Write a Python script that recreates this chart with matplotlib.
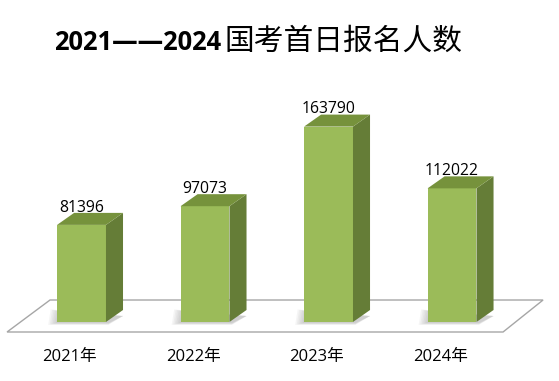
import matplotlib.pyplot as plt
from matplotlib.patches import Polygon

# data
years = ["2021年", "2022年", "2023年", "2024年"]
counts = [81396, 97073, 163790, 112022]
title_num = "2021——2024"
title_cn = "国考首日报名人数"

FONT = ["Open Sans", "Noto Sans CJK SC", "DejaVu Sans"]
plt.rcParams["font.family"] = FONT

front_c = "#9BBB59"
side_c = "#657D37"
top_c = "#76923C"

fig = plt.figure(figsize=(5.59, 3.81), dpi=100)
ax = fig.add_axes([0, 0, 1, 1])
ax.axis("off")

# one category = 123.5 px, 1 px = 838 value units
ax.set_xlim(-0.66, 3.866)
ax.set_ylim(-49450, 269900)

w = 0.198      # half bar width
dx = 0.138     # depth offset (category units)
dy = 10060     # depth offset (value units)

# floor
floor = Polygon([(-0.603, -8380), (3.413, -8380), (3.737, 18440), (-0.255, 18440)],
                closed=True, facecolor="white", edgecolor="#A6A6A6", lw=1.0, zorder=1)
ax.add_patch(floor)

for i, v in enumerate(counts):
    # soft shadow on the floor
    for k in range(6):
        s = 0.012 * (k + 1)
        ax.add_patch(Polygon([(i - w - s, -900 - 300 * k), (i + w + 0.02, -900 - 300 * k),
                              (i + w + dx, dy * 0.5), (i - w - s + 0.02, 9000 + 300 * k)],
                             closed=True, facecolor="#7F7F7F", edgecolor="none",
                             alpha=0.07, zorder=2))
    ax.add_patch(Polygon([(i - w, 0), (i + w, 0), (i + w, v), (i - w, v)],
                         closed=True, facecolor=front_c, edgecolor="none", zorder=3))
    ax.add_patch(Polygon([(i + w, 0), (i + w + dx, dy), (i + w + dx, v + dy), (i + w, v)],
                         closed=True, facecolor=side_c, edgecolor="none", zorder=3))
    ax.add_patch(Polygon([(i - w, v), (i + w, v), (i + w + dx, v + dy), (i - w + dx, v + dy)],
                         closed=True, facecolor=top_c, edgecolor="none", zorder=3))
    ax.annotate(str(v), (i, v), xytext=(0, 12.5), textcoords="offset points",
                ha="center", va="center", fontsize=11.3, color="black", zorder=4)
    ax.annotate(years[i], (i, 0), xytext=(-8.5, -25), textcoords="offset points",
                ha="center", va="center", fontsize=12, color="black")

# title: bold digits + regular Chinese, centred together
t1 = fig.text(0, 0.869, title_num, fontsize=18.4, fontweight="bold",
              ha="left", va="baseline", family=FONT)
t2 = fig.text(0, 0.869, title_cn, fontsize=21.4, ha="left", va="baseline",
              family=["Noto Sans CJK SC", "DejaVu Sans"])
fig.canvas.draw()
r = fig.canvas.get_renderer()
w1 = t1.get_window_extent(r).width / fig.bbox.width
w2 = t2.get_window_extent(r).width / fig.bbox.width
gap = 3 / fig.bbox.width
x0 = 258 / 559 - (w1 + gap + w2) / 2
t1.set_x(x0)
t2.set_x(x0 + w1 + gap)

fig.savefig("out.png", dpi=100)
